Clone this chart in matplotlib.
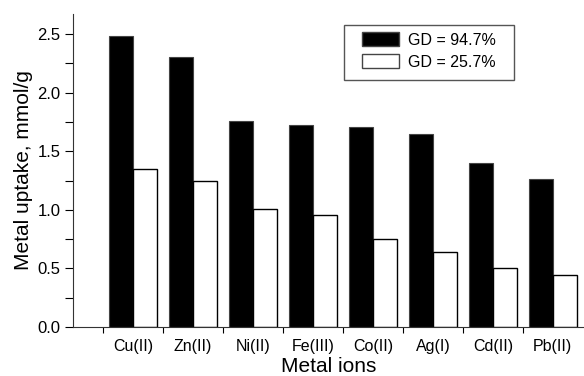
import numpy as np
import matplotlib.pyplot as plt
from matplotlib.patches import Patch, Rectangle
from matplotlib.ticker import MultipleLocator

plt.rcParams['font.family'] = ['Liberation Sans', 'DejaVu Sans']

ions = ["Cu(II)", "Zn(II)", "Ni(II)", "Fe(III)", "Co(II)", "Ag(I)", "Cd(II)", "Pb(II)"]
gd_high = [2.48, 2.30, 1.755, 1.72, 1.71, 1.65, 1.40, 1.26]   # GD = 94.7%
gd_low = [1.345, 1.25, 1.004, 0.96, 0.75, 0.64, 0.50, 0.44]   # GD = 25.7%
labels = ["GD = 94.7%", "GD = 25.7%"]

fig = plt.figure(figsize=(5.84, 3.76), dpi=100)
ax = fig.add_axes([73/584, 1 - 327/376, 1 - 73/584, 313/376])

x = np.arange(len(ions))
w = 0.4
ax.bar(x - w/2, gd_high, w, color='black', edgecolor='#444444', linewidth=0.8)
ax.bar(x + w/2, gd_low, w, color='white', edgecolor='black', linewidth=1.0)

ax.set_xlim(-1, 7.52)
ax.set_ylim(0, 2.671)

# y axis ticks
ax.yaxis.set_major_locator(MultipleLocator(0.5))
ax.yaxis.set_minor_locator(MultipleLocator(0.25))
ax.yaxis.set_major_formatter(plt.FormatStrFormatter('%.1f'))
ax.tick_params(axis='y', which='both', direction='out', length=6, width=0.8,
               labelsize=12, pad=3)

# x axis: labels at centres, small ticks between groups
ax.set_xticks(x)
ax.set_xticklabels(ions)
ax.set_xticks(np.arange(len(ions)) - 0.5, minor=True)
ax.tick_params(axis='x', which='major', length=0, labelsize=11.5, pad=9)
ax.tick_params(axis='x', which='minor', direction='out', length=4, width=0.8)

for s in ['top', 'right']:
    ax.spines[s].set_visible(False)
for s in ['left', 'bottom']:
    ax.spines[s].set_linewidth(0.8)
    ax.spines[s].set_color('#333333')

ax.set_ylabel("Metal uptake, mmol/g", fontsize=15, labelpad=3)
ax.set_xlabel("Metal ions", fontsize=15, labelpad=2)

handles = [Patch(facecolor='black', edgecolor='#444444'),
           Patch(facecolor='white', edgecolor='#444444')]
fig.legend(handles, labels, loc='upper left', bbox_to_anchor=(362/584, 1 - 32/376),
           frameon=False, fontsize=11.5, handlelength=2.3, handleheight=1.0,
           handletextpad=0.6, labelspacing=0.4, borderpad=0, borderaxespad=0)
fig.patches.append(Rectangle((344/584, 1 - 80/376), 170/584, 55/376,
                             transform=fig.transFigure, fill=False,
                             edgecolor='#555555', linewidth=1.0))

fig.savefig("out.png", dpi=100)
